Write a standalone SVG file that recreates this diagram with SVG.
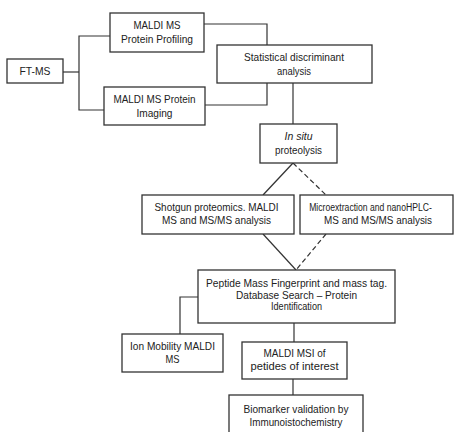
<svg xmlns="http://www.w3.org/2000/svg" width="454" height="432" viewBox="0 0 454 432">
<style>
.box{fill:#fff;stroke:#333;stroke-width:1.3}
.ln{fill:none;stroke:#333;stroke-width:1.2}
.dash{stroke-dasharray:5 3}
text{font-family:"Liberation Sans",Arial,sans-serif;font-size:11.5px;fill:#222;text-anchor:middle}
</style>
<rect width="454" height="432" fill="#fff"/>
<g id="connectors">
<polyline class="ln" points="63,72 79,72"/>
<polyline class="ln" points="110,36 79,36 79,110 104,110"/>
<polyline class="ln" points="204,24 267,24 267,45"/>
<polyline class="ln" points="205,105 267,105 267,83"/>
<line class="ln" x1="293" y1="83" x2="293" y2="124"/>
<line class="ln" x1="293" y1="163" x2="263" y2="195"/>
<line class="ln dash" x1="293" y1="163" x2="326" y2="195"/>
<line class="ln" x1="263" y1="234" x2="296" y2="270"/>
<line class="ln dash" x1="326" y1="234" x2="296" y2="270"/>
<polyline class="ln" points="198,297 180,297 180,334"/>
<line class="ln" x1="294" y1="323" x2="294" y2="342"/>
<line class="ln" x1="293" y1="379" x2="293" y2="395"/>
</g>
<g id="ftms"><rect class="box" x="7" y="59" width="56" height="24"/><text x="35" y="75" textLength="31" lengthAdjust="spacingAndGlyphs">FT-MS</text></g>
<g id="profiling"><rect class="box" x="110" y="13" width="94" height="39"/><text x="157" y="29" textLength="47" lengthAdjust="spacingAndGlyphs">MALDI MS</text><text x="157" y="43" textLength="72" lengthAdjust="spacingAndGlyphs">Protein Profiling</text></g>
<g id="imaging"><rect class="box" x="104" y="87" width="101" height="38"/><text x="154.5" y="103" textLength="82" lengthAdjust="spacingAndGlyphs">MALDI MS Protein</text><text x="154.5" y="117" textLength="36" lengthAdjust="spacingAndGlyphs">Imaging</text></g>
<g id="statistical"><rect class="box" x="217" y="45" width="155" height="38"/><text x="294" y="61" textLength="100" lengthAdjust="spacingAndGlyphs">Statistical discriminant</text><text x="294" y="75" textLength="34" lengthAdjust="spacingAndGlyphs">analysis</text></g>
<g id="insitu"><rect class="box" x="260" y="124" width="77" height="39"/><text x="298.5" y="140" font-style="italic" textLength="28" lengthAdjust="spacingAndGlyphs">In situ</text><text x="298.5" y="154" textLength="47" lengthAdjust="spacingAndGlyphs">proteolysis</text></g>
<g id="shotgun"><rect class="box" x="142" y="195" width="152" height="39"/><text x="216.5" y="211" textLength="124" lengthAdjust="spacingAndGlyphs">Shotgun proteomics. MALDI</text><text x="216.5" y="224" textLength="109" lengthAdjust="spacingAndGlyphs">MS and MS/MS analysis</text></g>
<g id="micro"><rect class="box" x="300" y="195" width="153" height="39"/><text transform="translate(370.5,211) scale(0.75,1)" x="0" y="0">Microextraction and nanoHPLC-</text><text x="378" y="224" textLength="108" lengthAdjust="spacingAndGlyphs">MS and MS/MS analysis</text></g>
<g id="peptide"><rect class="box" x="198" y="270" width="197" height="53"/><text x="296.5" y="287" textLength="181" lengthAdjust="spacingAndGlyphs">Peptide Mass Fingerprint and mass tag.</text><text x="296.5" y="298.5" textLength="121" lengthAdjust="spacingAndGlyphs">Database Search – Protein</text><text x="296.5" y="310" textLength="51" lengthAdjust="spacingAndGlyphs">Identification</text></g>
<g id="ionmobility"><rect class="box" x="122" y="334" width="101" height="38"/><text x="172.5" y="350" textLength="85" lengthAdjust="spacingAndGlyphs">Ion Mobility MALDI</text><text x="172.5" y="363" textLength="14" lengthAdjust="spacingAndGlyphs">MS</text></g>
<g id="msi"><rect class="box" x="242" y="342" width="105" height="37"/><text x="294.5" y="357" textLength="62" lengthAdjust="spacingAndGlyphs">MALDI MSI of</text><text x="294.5" y="370" textLength="88" lengthAdjust="spacingAndGlyphs">petides of interest</text></g>
<g id="biomarker"><rect class="box" x="229" y="395" width="134" height="45"/><text x="296" y="413" textLength="105" lengthAdjust="spacingAndGlyphs">Biomarker validation by</text><text x="296" y="426" textLength="93" lengthAdjust="spacingAndGlyphs">Immunoistochemistry</text></g>
</svg>
